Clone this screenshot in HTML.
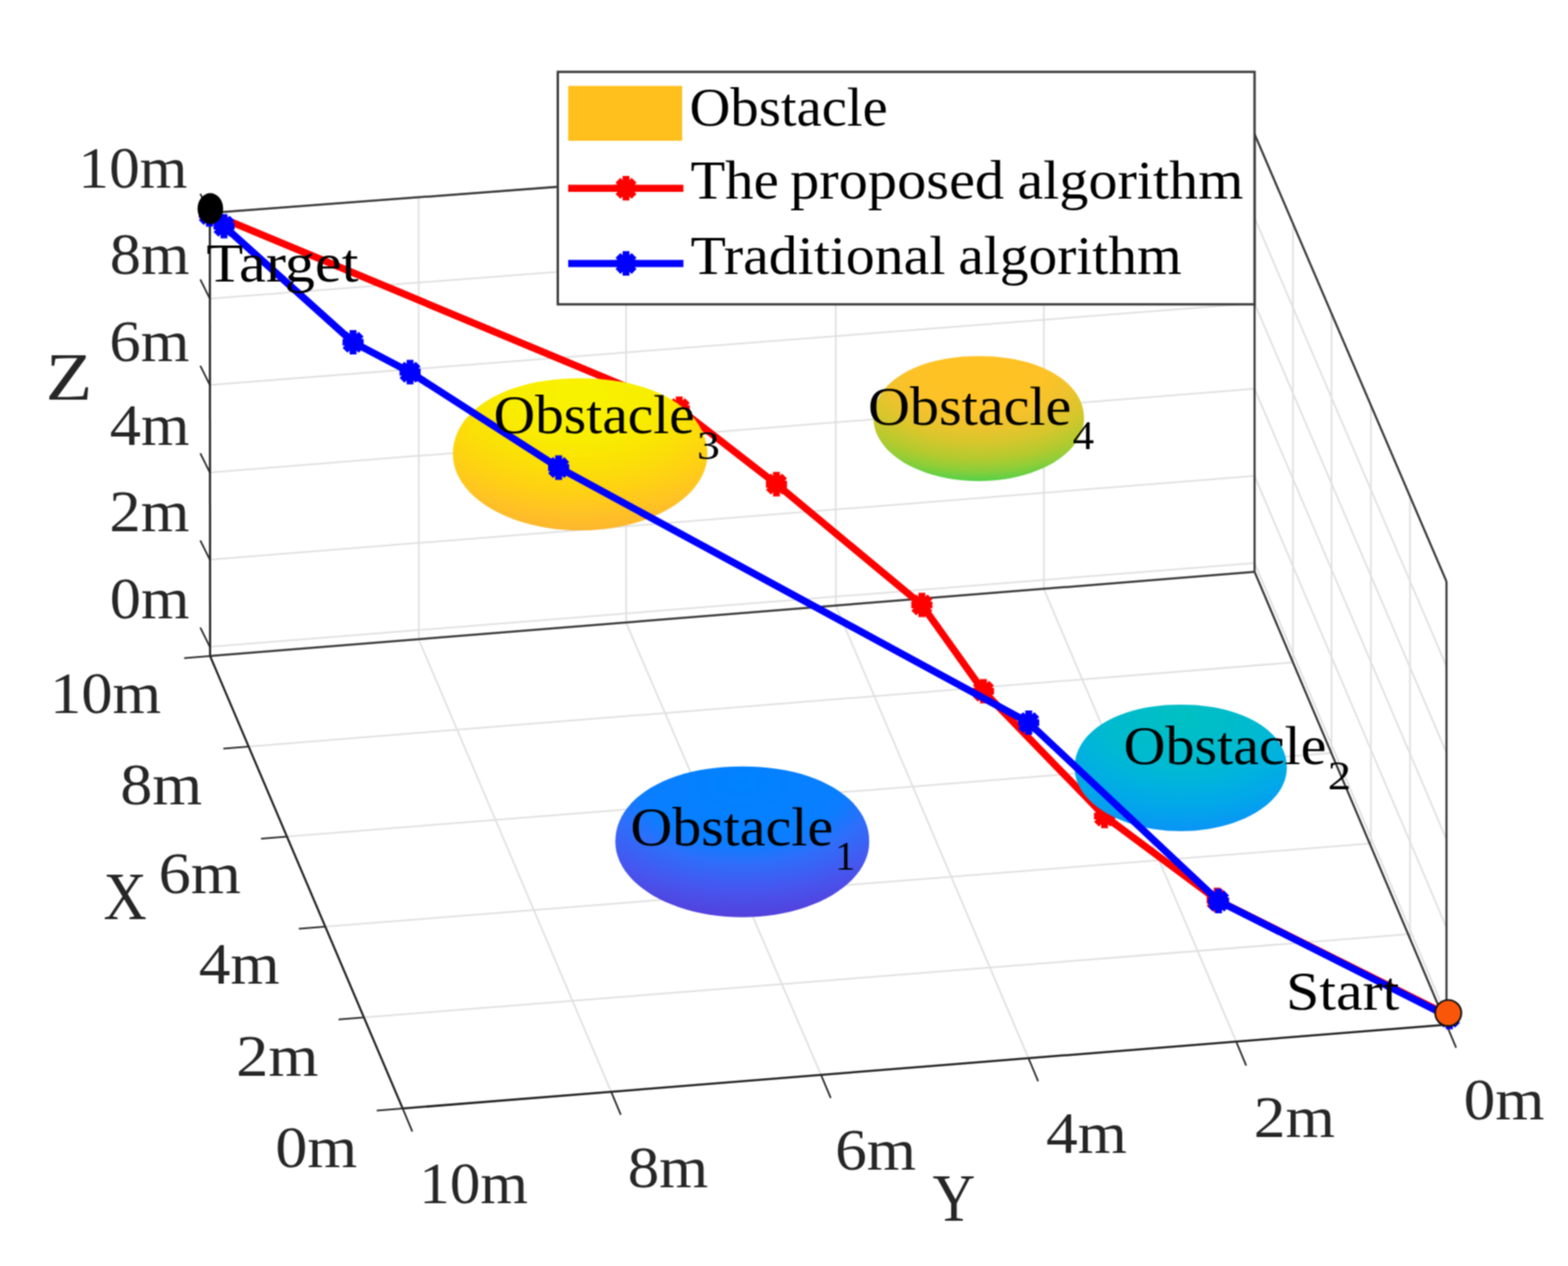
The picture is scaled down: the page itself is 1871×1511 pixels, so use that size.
<!DOCTYPE html>
<html lang="en">
<head>
<meta charset="utf-8">
<title>Path planning comparison</title>
<style>
html,body{margin:0;padding:0;background:#fff;}
body{width:1871px;height:1511px;overflow:hidden;}
svg{display:block;font-family:"Liberation Serif","DejaVu Serif",serif;}
</style>
</head>
<body>
<svg width="1871" height="1511" viewBox="0 0 1871 1511">
<defs><filter id="soft" x="0" y="0" width="1871" height="1511" filterUnits="userSpaceOnUse" color-interpolation-filters="sRGB"><feConvolveMatrix order="3" kernelMatrix="1 2 1 2 4 2 1 2 1" divisor="16" edgeMode="duplicate" preserveAlpha="true"/></filter></defs>
<g filter="url(#soft)">
<rect width="1871" height="1511" fill="#fff"/>
<g fill="none" stroke-linecap="butt">
<line x1="250.50" y1="254.30" x2="1497.00" y2="160.00" stroke="#e0e0e0" stroke-width="2"/>
<line x1="250.50" y1="356.50" x2="1497.00" y2="260.00" stroke="#e0e0e0" stroke-width="2"/>
<line x1="250.50" y1="459.50" x2="1497.00" y2="362.00" stroke="#e0e0e0" stroke-width="2"/>
<line x1="250.50" y1="564.00" x2="1497.00" y2="464.00" stroke="#e0e0e0" stroke-width="2"/>
<line x1="250.50" y1="668.00" x2="1497.00" y2="568.00" stroke="#e0e0e0" stroke-width="2"/>
<line x1="250.50" y1="772.00" x2="1497.00" y2="672.00" stroke="#e0e0e0" stroke-width="2"/>
<line x1="499.50" y1="235.46" x2="499.74" y2="762.92" stroke="#e0e0e0" stroke-width="2"/>
<line x1="747.00" y1="216.73" x2="747.18" y2="742.96" stroke="#e0e0e0" stroke-width="2"/>
<line x1="997.25" y1="197.80" x2="997.37" y2="722.79" stroke="#e0e0e0" stroke-width="2"/>
<line x1="1245.50" y1="179.02" x2="1245.56" y2="702.78" stroke="#e0e0e0" stroke-width="2"/>
<line x1="297.50" y1="891.00" x2="1542.80" y2="790.60" stroke="#e0e0e0" stroke-width="2"/>
<line x1="342.50" y1="998.50" x2="1588.60" y2="898.70" stroke="#e0e0e0" stroke-width="2"/>
<line x1="387.50" y1="1106.00" x2="1634.40" y2="1006.80" stroke="#e0e0e0" stroke-width="2"/>
<line x1="435.00" y1="1214.25" x2="1680.20" y2="1114.90" stroke="#e0e0e0" stroke-width="2"/>
<line x1="729.25" y1="1303.00" x2="499.50" y2="762.94" stroke="#e0e0e0" stroke-width="2"/>
<line x1="979.75" y1="1283.00" x2="747.00" y2="742.98" stroke="#e0e0e0" stroke-width="2"/>
<line x1="1227.25" y1="1263.00" x2="997.25" y2="722.80" stroke="#e0e0e0" stroke-width="2"/>
<line x1="1475.50" y1="1244.25" x2="1245.50" y2="702.78" stroke="#e0e0e0" stroke-width="2"/>
<line x1="1542.80" y1="266.80" x2="1542.80" y2="790.60" stroke="#e0e0e0" stroke-width="2"/>
<line x1="1588.80" y1="374.07" x2="1588.80" y2="899.17" stroke="#e0e0e0" stroke-width="2"/>
<line x1="1635.80" y1="483.66" x2="1635.80" y2="1010.10" stroke="#e0e0e0" stroke-width="2"/>
<line x1="1682.50" y1="592.56" x2="1682.50" y2="1120.33" stroke="#e0e0e0" stroke-width="2"/>
<line x1="1497.00" y1="260.00" x2="1726.00" y2="795.24" stroke="#e0e0e0" stroke-width="2"/>
<line x1="1497.00" y1="362.00" x2="1726.00" y2="898.51" stroke="#e0e0e0" stroke-width="2"/>
<line x1="1497.00" y1="464.00" x2="1726.00" y2="1001.78" stroke="#e0e0e0" stroke-width="2"/>
<line x1="1497.00" y1="568.00" x2="1726.00" y2="1107.08" stroke="#e0e0e0" stroke-width="2"/>
<line x1="1497.00" y1="672.00" x2="1726.00" y2="1212.37" stroke="#e0e0e0" stroke-width="2"/>
<line x1="250.40" y1="254.30" x2="1497.00" y2="160.00" stroke="#383838" stroke-width="2.5"/>
<line x1="250.70" y1="783.00" x2="1497.00" y2="682.50" stroke="#383838" stroke-width="2.5"/>
<line x1="1497.00" y1="160.00" x2="1497.00" y2="682.50" stroke="#383838" stroke-width="2.5"/>
<line x1="1497.00" y1="160.00" x2="1726.00" y2="694.00" stroke="#383838" stroke-width="2.5"/>
<line x1="1726.00" y1="694.00" x2="1726.00" y2="1223.00" stroke="#383838" stroke-width="2.5"/>
<line x1="1497.00" y1="682.50" x2="1726.00" y2="1223.00" stroke="#383838" stroke-width="2.5"/>
<line x1="250.40" y1="254.30" x2="250.70" y2="783.00" stroke="#222" stroke-width="2.5"/>
<line x1="250.70" y1="783.00" x2="480.50" y2="1323.00" stroke="#222" stroke-width="2.5"/>
<line x1="480.50" y1="1323.00" x2="1726.00" y2="1223.00" stroke="#222" stroke-width="2.5"/>
<line x1="239.00" y1="231.30" x2="250.40" y2="254.30" stroke="#2a2a2a" stroke-width="2"/>
<line x1="239.00" y1="333.50" x2="250.40" y2="356.50" stroke="#2a2a2a" stroke-width="2"/>
<line x1="239.00" y1="436.50" x2="250.40" y2="459.50" stroke="#2a2a2a" stroke-width="2"/>
<line x1="239.00" y1="541.00" x2="250.40" y2="564.00" stroke="#2a2a2a" stroke-width="2"/>
<line x1="239.00" y1="645.00" x2="250.40" y2="668.00" stroke="#2a2a2a" stroke-width="2"/>
<line x1="239.00" y1="749.00" x2="250.40" y2="772.00" stroke="#2a2a2a" stroke-width="2"/>
<line x1="219.70" y1="785.60" x2="250.70" y2="783.00" stroke="#2a2a2a" stroke-width="2"/>
<line x1="266.50" y1="893.60" x2="297.50" y2="891.00" stroke="#2a2a2a" stroke-width="2"/>
<line x1="311.50" y1="1001.10" x2="342.50" y2="998.50" stroke="#2a2a2a" stroke-width="2"/>
<line x1="356.50" y1="1108.60" x2="387.50" y2="1106.00" stroke="#2a2a2a" stroke-width="2"/>
<line x1="404.00" y1="1216.85" x2="435.00" y2="1214.25" stroke="#2a2a2a" stroke-width="2"/>
<line x1="449.50" y1="1325.60" x2="480.50" y2="1323.00" stroke="#2a2a2a" stroke-width="2"/>
<line x1="480.50" y1="1323.00" x2="492.00" y2="1350.50" stroke="#2a2a2a" stroke-width="2"/>
<line x1="729.25" y1="1303.00" x2="740.75" y2="1330.50" stroke="#2a2a2a" stroke-width="2"/>
<line x1="979.75" y1="1283.00" x2="991.25" y2="1310.50" stroke="#2a2a2a" stroke-width="2"/>
<line x1="1227.25" y1="1263.00" x2="1238.75" y2="1290.50" stroke="#2a2a2a" stroke-width="2"/>
<line x1="1475.50" y1="1244.25" x2="1487.00" y2="1271.75" stroke="#2a2a2a" stroke-width="2"/>
<line x1="1726.00" y1="1223.00" x2="1737.50" y2="1250.50" stroke="#2a2a2a" stroke-width="2"/>
</g>
<polyline points="250.40,254.30 810.50,487.80 926.50,577.80 1100.00,722.00 1173.50,825.00 1318.00,974.00 1452.40,1074.20 1729.00,1212.40" fill="none" stroke="#ff0000" stroke-width="8.5" stroke-linejoin="round"/>
<path d="M237.80 254.30L263.00 254.30M250.40 239.70L250.40 268.90M240.78 244.68L260.02 263.92M260.02 244.68L240.78 263.92" stroke="#ff0000" stroke-width="8.2" fill="none"/>
<path d="M797.90 487.80L823.10 487.80M810.50 473.20L810.50 502.40M800.88 478.18L820.12 497.42M820.12 478.18L800.88 497.42" stroke="#ff0000" stroke-width="8.2" fill="none"/>
<path d="M913.90 577.80L939.10 577.80M926.50 563.20L926.50 592.40M916.88 568.18L936.12 587.42M936.12 568.18L916.88 587.42" stroke="#ff0000" stroke-width="8.2" fill="none"/>
<path d="M1087.40 722.00L1112.60 722.00M1100.00 707.40L1100.00 736.60M1090.38 712.38L1109.62 731.62M1109.62 712.38L1090.38 731.62" stroke="#ff0000" stroke-width="8.2" fill="none"/>
<path d="M1160.90 825.00L1186.10 825.00M1173.50 810.40L1173.50 839.60M1163.88 815.38L1183.12 834.62M1183.12 815.38L1163.88 834.62" stroke="#ff0000" stroke-width="8.2" fill="none"/>
<path d="M1305.40 974.00L1330.60 974.00M1318.00 959.40L1318.00 988.60M1308.38 964.38L1327.62 983.62M1327.62 964.38L1308.38 983.62" stroke="#ff0000" stroke-width="8.2" fill="none"/>
<path d="M1439.80 1074.20L1465.00 1074.20M1452.40 1059.60L1452.40 1088.80M1442.78 1064.58L1462.02 1083.82M1462.02 1064.58L1442.78 1083.82" stroke="#ff0000" stroke-width="8.2" fill="none"/>
<path d="M1716.40 1212.40L1741.60 1212.40M1729.00 1197.80L1729.00 1227.00M1719.38 1202.78L1738.62 1222.02M1738.62 1202.78L1719.38 1222.02" stroke="#ff0000" stroke-width="8.2" fill="none"/>
<radialGradient id="o2" cx="0.5" cy="0.1" r="0.9" fx="0.5" fy="0.1"><stop offset="0" stop-color="#00c0c2"/><stop offset="0.4" stop-color="#00bacf"/><stop offset="0.6" stop-color="#00b2de"/><stop offset="0.8" stop-color="#02a6ea"/><stop offset="1" stop-color="#0a94f6"/></radialGradient>
<path d="M1535.5 916.5L1535.2 921.4L1534.4 926.4L1533.1 931.2L1531.2 936.0L1528.8 940.8L1525.9 945.4L1522.4 949.9L1518.5 954.2L1514.2 958.4L1509.3 962.5L1504.1 966.3L1498.4 969.9L1492.4 973.3L1486.0 976.4L1479.2 979.3L1472.2 981.9L1464.9 984.2L1457.3 986.3L1449.6 988.0L1441.7 989.4L1433.6 990.5L1425.4 991.4L1417.2 991.8L1408.9 992.0L1400.6 991.8L1392.4 991.4L1384.2 990.5L1376.1 989.4L1368.2 988.0L1360.5 986.3L1352.9 984.2L1345.6 981.9L1338.6 979.3L1331.8 976.4L1325.4 973.3L1319.4 969.9L1313.7 966.3L1308.5 962.5L1303.6 958.4L1299.3 954.2L1295.4 949.9L1291.9 945.4L1289.0 940.8L1286.6 936.0L1284.7 931.2L1283.4 926.4L1282.6 921.4L1282.3 916.5L1282.6 910.9L1283.3 905.6L1284.6 900.6L1286.4 895.7L1288.7 890.9L1291.5 886.3L1294.8 881.8L1298.5 877.5L1302.7 873.4L1307.3 869.4L1312.4 865.7L1317.9 862.2L1323.8 859.0L1330.0 855.9L1336.6 853.2L1343.5 850.7L1350.7 848.4L1358.2 846.5L1365.9 844.8L1374.0 843.5L1382.2 842.4L1390.7 841.6L1399.5 841.2L1408.9 841.0L1418.3 841.2L1427.1 841.6L1435.6 842.4L1443.8 843.5L1451.9 844.8L1459.6 846.5L1467.1 848.4L1474.3 850.7L1481.2 853.2L1487.8 855.9L1494.0 859.0L1499.9 862.2L1505.4 865.7L1510.5 869.4L1515.1 873.4L1519.3 877.5L1523.0 881.8L1526.3 886.3L1529.1 890.9L1531.4 895.7L1533.2 900.6L1534.5 905.6L1535.2 910.9Z" fill="url(#o2)"/>
<radialGradient id="o1" cx="0.5" cy="0.1" r="0.9" fx="0.5" fy="0.1"><stop offset="0" stop-color="#0082ff"/><stop offset="0.45" stop-color="#0a7eff"/><stop offset="0.6" stop-color="#2e6efa"/><stop offset="0.8" stop-color="#4656ee"/><stop offset="1" stop-color="#5440dc"/></radialGradient>
<path d="M1037.2 1004.8L1036.9 1010.6L1036.0 1016.5L1034.3 1022.3L1032.1 1028.0L1029.2 1033.7L1025.7 1039.2L1021.6 1044.6L1017.0 1049.8L1011.7 1054.8L1005.9 1059.5L999.7 1064.1L992.9 1068.4L985.6 1072.4L978.0 1076.2L969.9 1079.6L961.5 1082.7L952.8 1085.5L943.7 1087.9L934.4 1090.0L925.0 1091.7L915.3 1093.0L905.5 1094.0L895.7 1094.6L885.8 1094.8L875.8 1094.6L866.0 1094.0L856.2 1093.0L846.5 1091.7L837.1 1090.0L827.8 1087.9L818.7 1085.5L810.0 1082.7L801.6 1079.6L793.5 1076.2L785.9 1072.4L778.6 1068.4L771.8 1064.1L765.6 1059.5L759.8 1054.8L754.5 1049.8L749.9 1044.6L745.8 1039.2L742.3 1033.7L739.4 1028.0L737.2 1022.3L735.5 1016.5L734.6 1010.6L734.2 1004.8L734.6 998.0L735.5 991.8L737.0 985.8L739.2 979.9L741.9 974.2L745.3 968.7L749.2 963.4L753.6 958.2L758.7 953.3L764.2 948.7L770.3 944.2L776.8 940.1L783.9 936.2L791.3 932.6L799.2 929.3L807.5 926.3L816.1 923.6L825.1 921.3L834.3 919.3L843.9 917.7L853.8 916.4L864.0 915.5L874.5 914.9L885.7 914.8L897.0 914.9L907.5 915.5L917.7 916.4L927.6 917.7L937.2 919.3L946.4 921.3L955.4 923.6L964.0 926.3L972.3 929.3L980.2 932.6L987.6 936.2L994.7 940.1L1001.2 944.2L1007.3 948.7L1012.8 953.3L1017.9 958.2L1022.3 963.4L1026.2 968.7L1029.6 974.2L1032.3 979.9L1034.5 985.8L1036.0 991.8L1036.9 998.0Z" fill="url(#o1)"/>
<radialGradient id="o4" cx="0.5" cy="0.1" r="0.9" fx="0.5" fy="0.1"><stop offset="0" stop-color="#ffc222"/><stop offset="0.35" stop-color="#fdc226"/><stop offset="0.5" stop-color="#f0c22e"/><stop offset="0.65" stop-color="#d8c62c"/><stop offset="0.8" stop-color="#b4ca2e"/><stop offset="0.9" stop-color="#8ece38"/><stop offset="1" stop-color="#56d048"/></radialGradient>
<path d="M1293.5 499.6L1293.2 504.5L1292.4 509.3L1291.1 514.2L1289.2 518.9L1286.8 523.6L1283.9 528.1L1280.5 532.6L1276.7 536.9L1272.3 541.0L1267.5 545.0L1262.3 548.8L1256.7 552.4L1250.7 555.7L1244.4 558.8L1237.7 561.6L1230.7 564.2L1223.5 566.5L1216.0 568.5L1208.3 570.2L1200.4 571.7L1192.4 572.8L1184.3 573.6L1176.1 574.0L1167.9 574.2L1159.7 574.0L1151.5 573.6L1143.4 572.8L1135.4 571.7L1127.5 570.2L1119.8 568.5L1112.3 566.5L1105.1 564.2L1098.1 561.6L1091.4 558.8L1085.1 555.7L1079.1 552.4L1073.5 548.8L1068.3 545.0L1063.5 541.0L1059.1 536.9L1055.3 532.6L1051.9 528.1L1049.0 523.6L1046.6 518.9L1044.7 514.2L1043.4 509.3L1042.6 504.5L1042.3 499.6L1042.6 494.0L1043.3 488.9L1044.6 483.9L1046.4 479.0L1048.7 474.3L1051.4 469.7L1054.7 465.3L1058.4 461.0L1062.5 457.0L1067.2 453.1L1072.2 449.4L1077.6 446.0L1083.4 442.7L1089.6 439.8L1096.1 437.0L1103.0 434.6L1110.1 432.3L1117.6 430.4L1125.3 428.8L1133.2 427.4L1141.4 426.4L1149.8 425.6L1158.5 425.2L1167.9 425.0L1177.3 425.2L1186.0 425.6L1194.4 426.4L1202.6 427.4L1210.5 428.8L1218.2 430.4L1225.7 432.3L1232.8 434.6L1239.7 437.0L1246.2 439.8L1252.4 442.7L1258.2 446.0L1263.6 449.4L1268.6 453.1L1273.3 457.0L1277.4 461.0L1281.1 465.3L1284.4 469.7L1287.1 474.3L1289.4 479.0L1291.2 483.9L1292.5 488.9L1293.2 494.0Z" fill="url(#o4)"/>
<radialGradient id="o3" cx="0.5" cy="0.1" r="0.9" fx="0.5" fy="0.1"><stop offset="0" stop-color="#f8f200"/><stop offset="0.3" stop-color="#f8ee00"/><stop offset="0.5" stop-color="#fae204"/><stop offset="0.7" stop-color="#fed212"/><stop offset="0.85" stop-color="#ffc422"/><stop offset="1" stop-color="#fdb62e"/></radialGradient>
<path d="M844.0 542.3L843.7 548.2L842.7 554.2L841.1 560.0L838.8 565.8L835.9 571.5L832.4 577.0L828.3 582.5L823.7 587.7L818.4 592.7L812.6 597.6L806.3 602.2L799.5 606.5L792.3 610.6L784.6 614.3L776.5 617.8L768.1 620.9L759.3 623.7L750.3 626.2L741.0 628.3L731.5 630.0L721.8 631.4L712.0 632.3L702.1 632.9L692.2 633.1L682.3 632.9L672.4 632.3L662.6 631.4L652.9 630.0L643.4 628.3L634.1 626.2L625.1 623.7L616.3 620.9L607.9 617.8L599.8 614.3L592.1 610.6L584.9 606.5L578.1 602.2L571.8 597.6L566.0 592.7L560.7 587.7L556.1 582.5L552.0 577.0L548.5 571.5L545.6 565.8L543.3 560.0L541.7 554.2L540.7 548.2L540.4 542.3L540.7 535.5L541.6 529.2L543.2 523.2L545.3 517.2L548.1 511.5L551.4 505.9L555.3 500.5L559.8 495.4L564.9 490.4L570.4 485.7L576.5 481.2L583.1 477.0L590.1 473.1L597.6 469.5L605.5 466.1L613.8 463.1L622.4 460.4L631.4 458.1L640.7 456.1L650.3 454.4L660.2 453.2L670.4 452.2L680.9 451.7L692.2 451.5L703.5 451.7L714.0 452.2L724.2 453.2L734.1 454.4L743.7 456.1L753.0 458.1L762.0 460.4L770.6 463.1L778.9 466.1L786.8 469.5L794.3 473.1L801.3 477.0L807.9 481.2L814.0 485.7L819.5 490.4L824.6 495.4L829.1 500.5L833.0 505.9L836.3 511.5L839.1 517.2L841.2 523.2L842.8 529.2L843.7 535.5Z" fill="url(#o3)"/>
<polyline points="249.80,256.00 267.30,270.00 421.30,408.50 489.30,444.20 666.60,558.10 1227.50,862.50 1454.00,1075.40 1729.50,1214.00" fill="none" stroke="#0000ff" stroke-width="8.5" stroke-linejoin="round"/>
<path d="M237.20 256.00L262.40 256.00M249.80 241.40L249.80 270.60M240.18 246.38L259.42 265.62M259.42 246.38L240.18 265.62" stroke="#0000ff" stroke-width="8.2" fill="none"/>
<path d="M254.70 270.00L279.90 270.00M267.30 255.40L267.30 284.60M257.68 260.38L276.92 279.62M276.92 260.38L257.68 279.62" stroke="#0000ff" stroke-width="8.2" fill="none"/>
<path d="M408.70 408.50L433.90 408.50M421.30 393.90L421.30 423.10M411.68 398.88L430.92 418.12M430.92 398.88L411.68 418.12" stroke="#0000ff" stroke-width="8.2" fill="none"/>
<path d="M476.70 444.20L501.90 444.20M489.30 429.60L489.30 458.80M479.68 434.58L498.92 453.82M498.92 434.58L479.68 453.82" stroke="#0000ff" stroke-width="8.2" fill="none"/>
<path d="M654.00 558.10L679.20 558.10M666.60 543.50L666.60 572.70M656.98 548.48L676.22 567.72M676.22 548.48L656.98 567.72" stroke="#0000ff" stroke-width="8.2" fill="none"/>
<path d="M1214.90 862.50L1240.10 862.50M1227.50 847.90L1227.50 877.10M1217.88 852.88L1237.12 872.12M1237.12 852.88L1217.88 872.12" stroke="#0000ff" stroke-width="8.2" fill="none"/>
<path d="M1441.40 1075.40L1466.60 1075.40M1454.00 1060.80L1454.00 1090.00M1444.38 1065.78L1463.62 1085.02M1463.62 1065.78L1444.38 1085.02" stroke="#0000ff" stroke-width="8.2" fill="none"/>
<path d="M1716.90 1214.00L1742.10 1214.00M1729.50 1199.40L1729.50 1228.60M1719.88 1204.38L1739.12 1223.62M1739.12 1204.38L1719.88 1223.62" stroke="#0000ff" stroke-width="8.2" fill="none"/>
<text transform="translate(93.60,223.75) scale(1.0448,1)" font-size="70" fill="#262626">10m</text>
<text transform="translate(130.96,326.75) scale(1.0641,1)" font-size="70" fill="#262626">8m</text>
<text transform="translate(130.57,430.50) scale(1.0685,1)" font-size="70" fill="#262626">6m</text>
<text transform="translate(131.01,531.25) scale(1.0635,1)" font-size="70" fill="#262626">4m</text>
<text transform="translate(130.57,634.25) scale(1.0685,1)" font-size="70" fill="#262626">2m</text>
<text transform="translate(130.96,738.00) scale(1.0641,1)" font-size="70" fill="#262626">0m</text>
<text transform="translate(59.72,850.50) scale(1.0661,1)" font-size="70" fill="#262626">10m</text>
<text transform="translate(143.38,959.75) scale(1.0933,1)" font-size="70" fill="#262626">8m</text>
<text transform="translate(189.23,1066.00) scale(1.0978,1)" font-size="70" fill="#262626">6m</text>
<text transform="translate(237.24,1174.25) scale(1.0779,1)" font-size="70" fill="#262626">4m</text>
<text transform="translate(281.73,1283.75) scale(1.0978,1)" font-size="70" fill="#262626">2m</text>
<text transform="translate(328.38,1393.00) scale(1.0933,1)" font-size="70" fill="#262626">0m</text>
<text transform="translate(500.36,1436.00) scale(1.0426,1)" font-size="70" fill="#262626">10m</text>
<text transform="translate(748.93,1416.75) scale(1.0758,1)" font-size="70" fill="#262626">8m</text>
<text transform="translate(996.54,1395.50) scale(1.0802,1)" font-size="70" fill="#262626">6m</text>
<text transform="translate(1248.24,1376.00) scale(1.0779,1)" font-size="70" fill="#262626">4m</text>
<text transform="translate(1496.03,1357.25) scale(1.0831,1)" font-size="70" fill="#262626">2m</text>
<text transform="translate(1746.42,1335.50) scale(1.0787,1)" font-size="70" fill="#262626">0m</text>
<text transform="translate(54.42,477.25) scale(1.1251,1)" font-size="81" fill="#262626">Z</text>
<text transform="translate(123.39,1097.25) scale(0.8818,1)" font-size="81" fill="#262626">X</text>
<text transform="translate(1112.79,1457.25) scale(0.8709,1)" font-size="81" fill="#262626">Y</text>
<text transform="translate(589.01,516.75) scale(1.0556,1)" font-size="65" fill="#000">Obstacle</text>
<text transform="translate(831.66,548.00) scale(1.1132,1)" font-size="49" fill="#000">3</text>
<text transform="translate(1035.73,506.75) scale(1.0668,1)" font-size="65" fill="#000">Obstacle</text>
<text transform="translate(1279.98,536.00) scale(1.0424,1)" font-size="49" fill="#000">4</text>
<text transform="translate(752.23,1008.60) scale(1.0637,1)" font-size="65" fill="#000">Obstacle</text>
<text transform="translate(996.38,1037.80) scale(0.9842,1)" font-size="49" fill="#000">1</text>
<text transform="translate(1340.73,912.25) scale(1.0646,1)" font-size="65" fill="#000">Obstacle</text>
<text transform="translate(1584.37,942.25) scale(1.1408,1)" font-size="49" fill="#000">2</text>
<text transform="translate(246.24,336.25) scale(1.1077,1)" font-size="65" fill="#000">Target</text>
<text transform="translate(1534.42,1205.00) scale(1.1019,1)" font-size="65" fill="#000">Start</text>
<rect x="665.6" y="85.8" width="831.4" height="277.4" fill="#fff" stroke="#3a3a3a" stroke-width="2.8"/>
<rect x="678" y="102.5" width="136" height="65.5" fill="#ffc01e"/>
<line x1="678.00" y1="224.70" x2="815.50" y2="224.70" stroke="#ff0000" stroke-width="8.5"/>
<path d="M734.40 224.70L759.60 224.70M747.00 210.10L747.00 239.30M737.38 215.08L756.62 234.32M756.62 215.08L737.38 234.32" stroke="#ff0000" stroke-width="8.2" fill="none"/>
<line x1="678.00" y1="314.40" x2="815.50" y2="314.40" stroke="#0000ff" stroke-width="8.5"/>
<path d="M734.40 314.40L759.60 314.40M747.00 299.80L747.00 329.00M737.38 304.78L756.62 324.02M756.62 304.78L737.38 324.02" stroke="#0000ff" stroke-width="8.2" fill="none"/>
<text transform="translate(822.80,150.30) scale(1.0399,1)" font-size="65" fill="#000">Obstacle</text>
<text transform="translate(824.02,237.00) scale(1.0413,1)" font-size="65" fill="#000">The</text>
<text transform="translate(942.65,237.00) scale(1.0726,1)" font-size="65" fill="#000">proposed</text>
<text transform="translate(1214.07,237.00) scale(1.0672,1)" font-size="65" fill="#000">algorithm</text>
<text transform="translate(823.99,326.80) scale(1.0618,1)" font-size="65" fill="#000">Traditional</text>
<text transform="translate(1143.60,326.80) scale(1.0540,1)" font-size="65" fill="#000">algorithm</text>
<ellipse cx="251" cy="249" rx="15.3" ry="18.4" fill="#000"/>
<circle cx="1728.1" cy="1209.1" r="15.6" fill="#fa560a" stroke="#141414" stroke-width="2.2"/>
</g>
</svg>
</body>
</html>
